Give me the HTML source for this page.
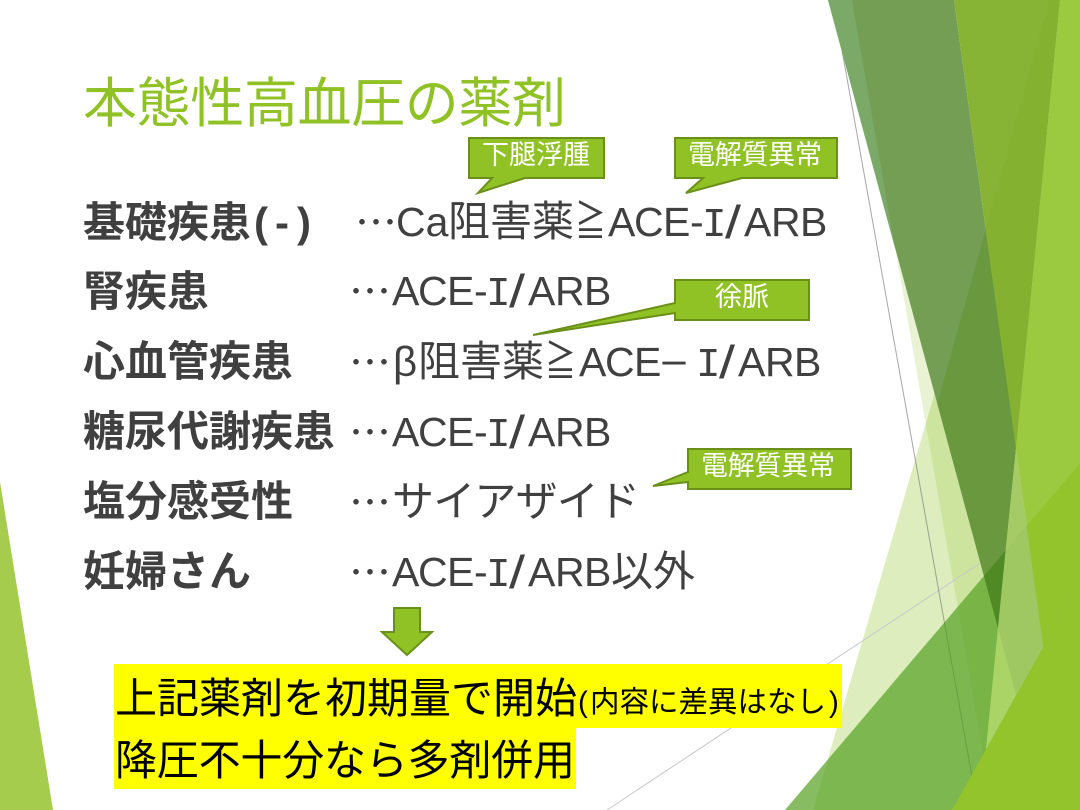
<!DOCTYPE html>
<html lang="ja"><head><meta charset="utf-8"><style>
html,body{margin:0;padding:0;background:#fff;width:1080px;height:810px;overflow:hidden}
svg{display:block}
text{font-family:"Liberation Sans","Noto Sans CJK JP",sans-serif;white-space:pre}
.b{font-size:42px;fill:#404040;font-weight:700}
.r{font-size:42px;fill:#404040}
.l{font-size:41px;fill:#404040}
.s{font-size:46px;fill:#404040}
.c{font-size:27px;fill:#fff;text-anchor:middle}
.k{font-size:42px;fill:#000}
.d{font-size:42px;fill:#404040;font-family:"Noto Sans CJK JP",sans-serif}
.m{font-family:"Liberation Mono",monospace;font-size:41px;fill:#404040}
</style></head><body>
<svg width="1080" height="810" viewBox="0 0 1080 810" xmlns="http://www.w3.org/2000/svg">
<rect width="1080" height="810" fill="#fff"/>
<polygon points="1049.4,0 813,810 1060,810 1040,400" fill="#90c226" fill-opacity=".3"/>
<polygon points="852,0 993,810 1065,810 1040,300" fill="#90c226" fill-opacity=".2"/>
<line x1="607" y1="810" x2="1012" y2="542" stroke="#c8c8c8" stroke-width="1"/>
<line x1="833" y1="0" x2="978" y2="810" stroke="#808080" stroke-opacity=".7" stroke-width="1"/>
<polygon points="828,0 954,0 1016,448 1005.6,550.6 998,628" fill="#739e54"/>
<polygon points="828,0 852,0 895,248" fill="#7aa968"/>
<polygon points="937.3,403.6 985.7,229.5 1016,448 1005.6,550.6 998,628" fill="#6a983f"/>
<polygon points="954,0 1060,0 1016,448" fill="#88b435"/>
<polygon points="985.7,229.5 1049.4,0 1060,0 1016,448" fill="#85b130"/>
<polygon points="785,810 1080,463 1080,810" fill="#54a021" fill-opacity=".7"/>
<polygon points="984,576 1005.6,550.6 998,628" fill="#4f8a25"/>
<polygon points="1060,0 1080,0 1080,463 1026.7,525.7 1016,448" fill="#9bc93f"/>
<polygon points="1016,448 1026.7,525.7 1005.6,550.6" fill="#a5cb66"/>
<polygon points="1005.6,550.6 1026.7,525.7 1043.5,647 986,749.5" fill="#9fc862"/>
<polygon points="998,628 1016,695 986,749.5" fill="#aad466"/>
<polygon points="1026.7,525.7 1080,463 1080,582 1043.5,647" fill="#93c42b"/>
<polygon points="952,810 1080,582 1080,810" fill="#93c42b"/>
<polygon points="0,482 53,810 0,810" fill="#a5cc4c"/>

<text x="83" y="122" font-size="54" fill="#90c226" textLength="483" lengthAdjust="spacing">本態性高血圧の薬剤</text>

<text class="b" x="83" y="237">基礎疾患<tspan x="254 275 297">(-)</tspan></text>
<text class="b" x="83" y="306">腎疾患</text>
<text class="b" x="83" y="376">心血管疾患</text>
<text class="b" x="83" y="446">糖尿代謝疾患</text>
<text class="b" x="83" y="516">塩分感受性</text>
<text class="b" x="83" y="586">妊婦さん</text>

<text class="d" x="355" y="238">…</text>
<text class="l" x="396" y="236" font-size="40">Ca</text>
<text class="r" x="448" y="236">阻害薬</text>
<text class="r" x="575" y="236" textLength="31" lengthAdjust="spacingAndGlyphs">≧</text>
<text class="l" y="236"><tspan x="608 634 663 690">ACE-</tspan></text>
<text class="m" x="702" y="236">I</text>
<text class="s" x="725" y="238" textLength="16" lengthAdjust="spacingAndGlyphs">/</text>
<text class="l" y="236"><tspan x="744 771 800">ARB</tspan></text>

<text class="d" x="349" y="307">…</text>
<text class="l" y="305"><tspan x="392 418 447 474">ACE-</tspan></text>
<text class="m" x="486" y="305">I</text>
<text class="s" x="509" y="307" textLength="16" lengthAdjust="spacingAndGlyphs">/</text>
<text class="l" y="305"><tspan x="528 555 584">ARB</tspan></text>

<text class="d" x="349" y="378">…</text>
<text class="r" x="393" y="376">β</text>
<text class="r" x="418" y="376">阻害薬</text>
<text class="r" x="545" y="376" textLength="31" lengthAdjust="spacingAndGlyphs">≧</text>
<text class="l" y="376"><tspan x="579 605 634">ACE</tspan></text>
<text class="r" x="658" y="379" textLength="32" lengthAdjust="spacingAndGlyphs">－</text>
<text class="m" x="696" y="376">I</text>
<text class="s" x="719" y="378" textLength="16" lengthAdjust="spacingAndGlyphs">/</text>
<text class="l" y="376"><tspan x="738 765 794">ARB</tspan></text>

<text class="d" x="349" y="448">…</text>
<text class="l" y="446"><tspan x="392 418 447 474">ACE-</tspan></text>
<text class="m" x="486" y="446">I</text>
<text class="s" x="509" y="448" textLength="16" lengthAdjust="spacingAndGlyphs">/</text>
<text class="l" y="446"><tspan x="528 555 584">ARB</tspan></text>

<text class="d" x="349" y="518">…</text>
<text class="r" x="392" y="516" textLength="248" lengthAdjust="spacing">サイアザイド</text>

<text class="d" x="349" y="588">…</text>
<text class="l" y="586"><tspan x="392 418 447 474">ACE-</tspan></text>
<text class="m" x="486" y="586">I</text>
<text class="s" x="509" y="588" textLength="16" lengthAdjust="spacingAndGlyphs">/</text>
<text class="l" y="586"><tspan x="528 555 584">ARB</tspan></text>
<text class="r" x="611" y="586">以外</text>

<g fill="#90c226" stroke="#6a9019" stroke-width="2" stroke-linejoin="miter">
<polygon points="469,138 604,138 604,178 525,178 478,193 492,178 469,178"/>
<polygon points="675,138 837,138 837,178 742,178 686,193 703,178 675,178"/>
<polygon points="675,280 809,280 809,320 675,320 675,313 533,335 675,303"/>
<polygon points="688,449 851,449 851,489 688,489 688,482 653,486 688,472"/>
<polygon points="394,608 420,608 420,632 432,632 407,655 382,632 394,632"/>
</g>
<text class="c" x="536" y="164" textLength="108" lengthAdjust="spacing">下腿浮腫</text>
<text class="c" x="755" y="164" textLength="134" lengthAdjust="spacing">電解質異常</text>
<text class="c" x="742" y="306" textLength="54" lengthAdjust="spacing">徐脈</text>
<text class="c" x="768" y="475" textLength="134" lengthAdjust="spacing">電解質異常</text>

<rect x="114" y="664" width="728" height="64" fill="#ff0"/>
<rect x="114" y="728" width="462" height="61" fill="#ff0"/>
<text class="k" x="115" y="713" textLength="462" lengthAdjust="spacing">上記薬剤を初期量で開始</text>
<text x="578" y="712" font-size="29.5" fill="#000">(</text>
<text x="590" y="712" font-size="29.5" fill="#000">内容に差異はなし</text>
<text x="829" y="712" font-size="29.5" fill="#000">)</text>
<text class="k" x="115" y="775" textLength="460" lengthAdjust="spacing">降圧不十分なら多剤併用</text>
</svg>
</body></html>
